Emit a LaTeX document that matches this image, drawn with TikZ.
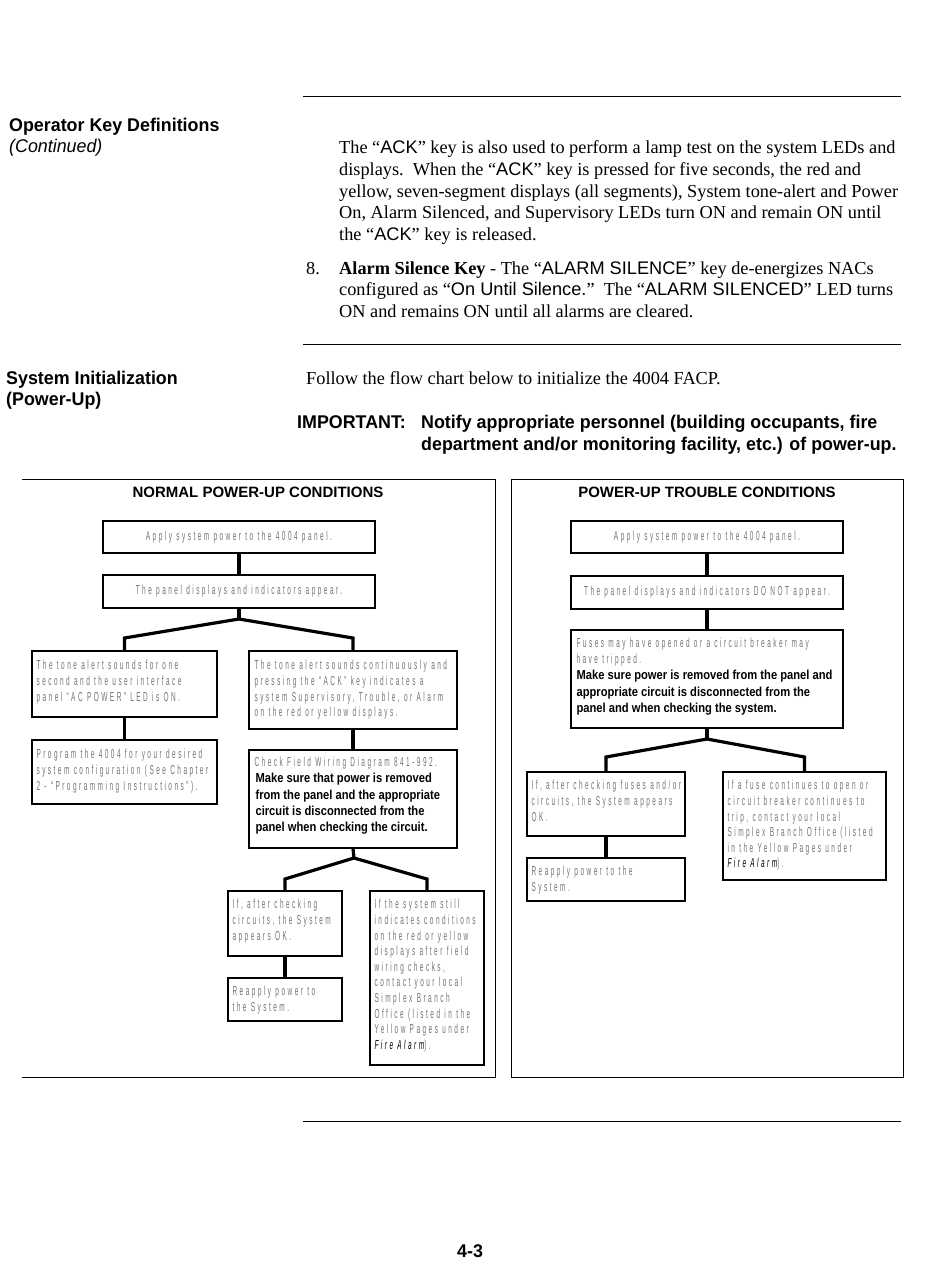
\documentclass[tikz,border=0pt]{standalone}
\usepackage{fontspec}
\setmainfont{Liberation Serif}
\setsansfont{Liberation Sans}
\newfontfamily\condf[FakeStretch=0.86]{Liberation Sans}
\newfontfamily\headf[FakeStretch=0.97]{Liberation Sans}
\newfontfamily\keyf{Liberation Sans}
\newfontfamily\grayff[FakeStretch=0.5,LetterSpace=19]{Liberation Sans}
\newcommand\skey[1]{{\keyf\fontsize{18.2}{21.6}\selectfont #1}}
\newcommand\mkbox[5]{\node[box,minimum width={#4pt-#2pt},minimum height={#5pt-#3pt}] (#1) at ({(#2+#4)/2},{(#3+#5)/2}) {};}
\begin{document}
\begin{tikzpicture}[x=1pt,y=-1pt,
  box/.style={draw, line width=1.3pt, inner sep=0pt},
  conn/.style={line width=3.2pt, line join=miter},
  gtxt/.style={inner sep=0pt, align=left, text=black!55, font=\grayff\fontsize{13}{15.6}\selectfont},
  btxt/.style={inner sep=0pt, align=left, font=\condf\bfseries\fontsize{13}{16.2}\selectfont},
  body/.style={inner sep=0pt, anchor=base west, font=\fontsize{18.3}{21.6}\selectfont},
  head/.style={inner sep=0pt, anchor=base west, font=\headf\bfseries\fontsize{18.4}{21}\selectfont},
  ttl/.style={inner sep=0pt, font=\sffamily\bfseries\fontsize{15}{17}\selectfont},
  rule/.style={line width=1pt},
  frame/.style={line width=1pt}]
\useasboundingbox (0,0) rectangle (950,1284);
% rules
\draw[rule] (303,97) -- (901,97);
\draw[rule] (303,344) -- (901,344);
\draw[rule] (303,1121) -- (901,1121);
% headings
\node[head] (h1) at (9,132) {Operator Key Definitions};
\node[head, font=\headf\itshape\fontsize{18.4}{21}\selectfont] (h1b) at (9,153) {(Continued)};
\node[head] (h2) at (6,384) {System Initialization};
\node[head] (h2b) at (6,405) {(Power-Up)};
% body
\node[body] (p1) at (339,154) {The “\skey{ACK}” key is also used to perform a lamp test on the system LEDs and};
\node[body] (p2) at (339,175.6) {displays.\ \ When the “\skey{ACK}” key is pressed for five seconds, the red and};
\node[body] (p3) at (339,197.2) {yellow, seven-segment displays (all segments), System tone-alert and Power};
\node[body] (p4) at (339,218.8) {On, Alarm Silenced, and Supervisory LEDs turn ON and remain ON until};
\node[body] (p5) at (339,240.4) {the “\skey{ACK}” key is released.};
\node[body] (n8) at (306,274) {8.};
\node[body] (p6) at (339,274) {\textbf{Alarm Silence Key} - The “\skey{ALARM SILENCE}” key de-energizes NACs};
\node[body] (p7) at (339,295.6) {configured as “\skey{On Until Silence.}”\ \ The “\skey{ALARM SILENCED}” LED turns};
\node[body] (p8) at (339,317.2) {ON and remains ON until all alarms are cleared.};
\node[body] (p9) at (306,384) {Follow the flow chart below to initialize the 4004 FACP.};
\node[head] (imp) at (297,428) {IMPORTANT:};
\node[head] (imp1) at (421,428) {Notify appropriate personnel (building occupants, fire};
\node[head] (imp2) at (421,450) {department and/or monitoring facility, etc.) of power-up.};
\node[head] (pg) at (457,1257) {4-3};
% frames
\draw[frame] (22,479) -- (495,479) -- (495,1077) -- (22,1077);
\draw[frame] (511,479) rectangle (903,1077);
\node[ttl] (t1) at (258,492) {NORMAL POWER-UP CONDITIONS};
\node[ttl] (t2) at (707,492) {POWER-UP TROUBLE CONDITIONS};
% ---------- left chart
\mkbox{a1}{103}{521}{375}{553}
\mkbox{a2}{103}{575}{375}{608}
\mkbox{l1}{32}{651}{217}{717}
\mkbox{r1}{249}{651}{457}{729}
\mkbox{l2}{32}{740}{217}{804}
\mkbox{r2}{249}{750}{457}{848}
\mkbox{b1}{228}{891}{342}{956}
\mkbox{b2}{370}{891}{484}{1065}
\mkbox{b3}{228}{978}{342}{1021}
\node[gtxt] at (a1) {Apply system power to the 4004 panel.};
\node[gtxt] at (a2) {The panel displays and indicators appear.};
\node[gtxt, anchor=north west] at ([xshift=5pt,yshift=-10pt]l1.north west) {The tone alert sounds for one\\second and the user interface\\panel “AC POWER” LED is ON.};
\node[gtxt, anchor=north west] at ([xshift=5pt,yshift=-10pt]l2.north west) {Program the 4004 for your desired\\system configuration (See Chapter\\2 - “Programming Instructions”).};
\node[gtxt, anchor=north west] at ([xshift=6pt,yshift=-10pt]r1.north west) {The tone alert sounds continuously and\\pressing the “ACK” key indicates a\\system Supervisory, Trouble, or Alarm\\on the red or yellow displays.};
\node[gtxt, anchor=north west] at ([xshift=6pt,yshift=-8pt]r2.north west) {Check Field Wiring Diagram 841-992.};
\node[btxt, anchor=north west] at ([xshift=7pt,yshift=-24pt]r2.north west) {Make sure that power is removed\\from the panel and the appropriate\\circuit is disconnected from the\\panel when checking the circuit.};
\node[gtxt, anchor=north west] at ([xshift=5pt,yshift=-9pt]b1.north west) {If, after checking\\circuits, the System\\appears OK.};
\node[gtxt, anchor=north west] at ([xshift=5pt,yshift=-9pt]b2.north west) {If the system still\\indicates conditions\\on the red or yellow\\displays after field\\wiring checks,\\contact your local\\Simplex Branch\\Office (listed in the\\Yellow Pages under\\{\color{black}\itshape Fire Alarm}).};
\node[gtxt, anchor=north west] at ([xshift=5pt,yshift=-9pt]b3.north west) {Reapply power to\\the System.};
\coordinate (j1) at (239,619);
\coordinate (y1) at (0,638);
\coordinate (j2) at (354,858);
\coordinate (y2) at (0,879);
\draw[conn] (a1.south) -- (a2.north);
\draw[conn] (a2.south) -- (j1);
\draw[conn] (l1.north) -- (l1.north |- y1) -- (j1) -- (r1.north |- y1) -- (r1.north);
\draw[conn] (l1.south) -- (l2.north);
\draw[conn] (r1.south) -- (r2.north);
\draw[conn] (r2.south) -- (j2);
\draw[conn] (b1.north) -- (b1.north |- y2) -- (j2) -- (b2.north |- y2) -- (b2.north);
\draw[conn] (b1.south) -- (b3.north);
% ---------- right chart
\mkbox{c1}{571}{521}{843}{553}
\mkbox{c2}{571}{576}{843}{609}
\mkbox{c3}{571}{630}{843}{728}
\mkbox{d1}{527}{772}{685}{836}
\mkbox{d2}{723}{772}{886}{880}
\mkbox{d3}{527}{858}{685}{901}
\node[gtxt] at (c1) {Apply system power to the 4004 panel.};
\node[gtxt] at (c2) {The panel displays and indicators DO NOT appear.};
\node[gtxt, anchor=north west] at ([xshift=6pt,yshift=-9pt]c3.north west) {Fuses may have opened or a circuit breaker may\\have tripped.};
\node[btxt, anchor=north west] at ([xshift=6pt,yshift=-41pt]c3.north west) {Make sure power is removed from the panel and\\appropriate circuit is disconnected from the\\panel and when checking the system.};
\node[gtxt, anchor=north west] at ([xshift=5pt,yshift=-9pt]d1.north west) {If, after checking fuses and/or\\circuits, the System appears\\OK.};
\node[gtxt, anchor=north west] at ([xshift=5pt,yshift=-9pt]d2.north west) {If a fuse continues to open or\\circuit breaker continues to\\trip, contact your local\\Simplex Branch Office (listed\\in the Yellow Pages under\\{\color{black}\itshape Fire Alarm}).};
\node[gtxt, anchor=north west] at ([xshift=5pt,yshift=-9pt]d3.north west) {Reapply power to the\\System.};
\coordinate (j3) at (707,739);
\coordinate (y3) at (0,757);
\draw[conn] (c1.south) -- (c2.north);
\draw[conn] (c2.south) -- (c3.north);
\draw[conn] (c3.south) -- (j3);
\draw[conn] (d1.north) -- (d1.north |- y3) -- (j3) -- (d2.north |- y3) -- (d2.north);
\draw[conn] (d1.south) -- (d3.north);
\end{tikzpicture}
\end{document}
